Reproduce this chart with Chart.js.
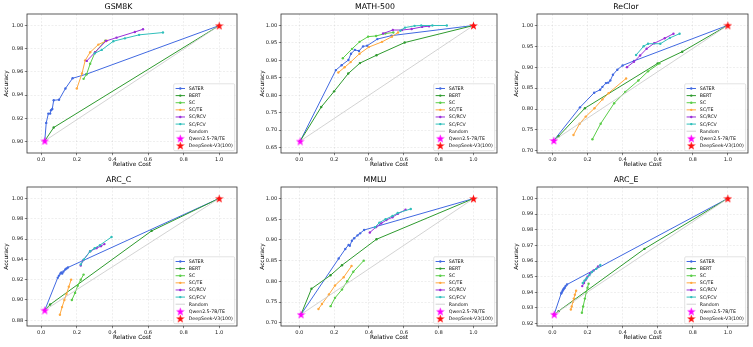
<!DOCTYPE html>
<html>
<head>
<meta charset="utf-8">
<script src="https://cdn.jsdelivr.net/npm/chart.js@4.4.1/dist/chart.umd.min.js"></script>
<style>
  html, body { margin: 0; padding: 0; background: #fff; }
  #wrap { position: relative; width: 753px; height: 347px; }
  #wrap canvas { position: absolute; }
</style>
</head>
<body>
<div id="wrap"></div>
<script>
// legend labels, in plotting order
const methods = ["SATER", "BERT", "SC", "SC/TE", "SC/RCV", "SC/FCV"];
const extraLabels = ["Random", "Qwen2.5-7B/TE", "DeepSeek-V3(100)"];
const colors = ["#4169e1", "#2e9a2e", "#5acd48", "#ffa83e", "#9a2fd8", "#30bfbb"];
const xTicks = [0, 0.2, 0.4, 0.6, 0.8, 1.0];
const bigModel = [1.0, 1.0];

// ---- GSM8K
const gsmQwen = [0.02, 0.9005];
const gsmSaterCost = [0.02, 0.028, 0.04, 0.05, 0.055, 0.062, 0.07, 0.1, 0.136, 0.176, 0.253, 1.0];
const gsmSaterAcc = [0.9005, 0.916, 0.924, 0.924, 0.927, 0.928, 0.9355, 0.936, 0.9457, 0.9545, 0.958, 1.0];
const gsmBertCost = [0.02, 0.07, 1.0];
const gsmBertAcc = [0.9005, 0.912, 1.0];
const gsmScCost = [0.238, 0.255, 0.275, 0.303, 0.36];
const gsmScAcc = [0.954, 0.958, 0.967, 0.977, 0.987];
const gsmTeCost = [0.2, 0.229, 0.247, 0.275, 0.321, 0.368];
const gsmTeAcc = [0.9457, 0.9586, 0.970, 0.977, 0.9836, 0.987];
const gsmRcvCost = [0.256, 0.303, 0.364, 0.423, 0.526, 0.572];
const gsmRcvAcc = [0.9695, 0.977, 0.9867, 0.9896, 0.9945, 0.9968];
const gsmFcvCost = [0.30, 0.34, 0.405, 0.47, 0.55, 0.684];
const gsmFcvAcc = [0.976, 0.979, 0.9865, 0.989, 0.992, 0.994];
const gsmYTicks = [0.90, 0.92, 0.94, 0.96, 0.98, 1.00];

// ---- MATH-500
const mathQwen = [0.005, 0.668];
const mathSaterCost = [0.005, 0.21, 0.243, 0.282, 0.297, 0.319, 0.343, 0.366, 0.39, 0.448, 0.53, 1.0];
const mathSaterAcc = [0.668, 0.872, 0.886, 0.901, 0.919, 0.930, 0.927, 0.940, 0.942, 0.961, 0.971, 1.0];
const mathBertCost = [0.005, 0.126, 0.2, 0.281, 0.348, 0.443, 0.605, 1.0];
const mathBertAcc = [0.668, 0.766, 0.811, 0.862, 0.892, 0.9146, 0.951, 1.0];
const mathScCost = [0.25, 0.303, 0.346, 0.395, 0.441, 0.494, 0.54];
const mathScAcc = [0.906, 0.933, 0.953, 0.968, 0.970, 0.977, 0.98];
const mathTeCost = [0.224, 0.26, 0.295, 0.346, 0.399, 0.475, 0.532, 0.567];
const mathTeAcc = [0.865, 0.88, 0.895, 0.919, 0.938, 0.953, 0.968, 0.98];
const mathRcvCost = [0.481, 0.537, 0.59, 0.645, 0.705, 0.745];
const mathRcvAcc = [0.977, 0.987, 0.987, 0.99, 0.996, 0.998];
const mathFcvCost = [0.58, 0.607, 0.662, 0.70, 0.764, 0.847];
const mathFcvAcc = [0.985, 0.994, 0.999, 1.0, 1.0, 1.0];
const mathYTicks = [0.65, 0.70, 0.75, 0.80, 0.85, 0.90, 0.95, 1.00];

// ---- ReClor
const reQwen = [0.008, 0.725];
const reSaterCost = [0.008, 0.157, 0.238, 0.272, 0.285, 0.305, 0.318, 0.33, 0.345, 0.37, 0.40, 0.465, 1.0];
const reSaterAcc = [0.725, 0.804, 0.839, 0.846, 0.853, 0.862, 0.863, 0.868, 0.882, 0.894, 0.904, 0.915, 1.0];
const reBertCost = [0.008, 0.035, 0.185, 0.6, 0.74, 1.0];
const reBertAcc = [0.725, 0.735, 0.802, 0.909, 0.937, 1.0];
const reScCost = [0.228, 0.275, 0.352, 0.415, 0.49, 0.545, 0.61];
const reScAcc = [0.728, 0.765, 0.814, 0.841, 0.868, 0.89, 0.909];
const reTeCost = [0.12, 0.155, 0.19, 0.24, 0.285, 0.32, 0.42];
const reTeAcc = [0.738, 0.765, 0.782, 0.802, 0.823, 0.838, 0.873];
const reRcvCost = [0.425, 0.465, 0.5, 0.537, 0.58, 0.64, 0.69];
const reRcvAcc = [0.90, 0.913, 0.928, 0.944, 0.957, 0.969, 0.98];
const reFcvCost = [0.477, 0.52, 0.545, 0.615, 0.67, 0.725];
const reFcvAcc = [0.929, 0.95, 0.956, 0.956, 0.97, 0.98];
const reYTicks = [0.70, 0.75, 0.80, 0.85, 0.90, 0.95, 1.00];

// ---- ARC_C
const arccQwen = [0.02, 0.89];
const arccSaterCost = [0.02, 0.093, 0.1, 0.108, 0.113, 0.118, 0.125, 0.135, 0.142, 0.15, 1.0];
const arccSaterAcc = [0.89, 0.922, 0.924, 0.926, 0.927, 0.926, 0.928, 0.930, 0.931, 0.932, 1.0];
const arccBertCost = [0.02, 0.05, 0.62, 1.0];
const arccBertAcc = [0.89, 0.8955, 0.968, 1.0];
const arccScCost = [0.172, 0.19, 0.205, 0.222, 0.238];
const arccScAcc = [0.90, 0.907, 0.914, 0.92, 0.925];
const arccTeCost = [0.105, 0.117, 0.13, 0.142, 0.155, 0.168];
const arccTeAcc = [0.8855, 0.893, 0.9, 0.906, 0.913, 0.92];
const arccRcvCost = [0.222, 0.235, 0.275, 0.31, 0.335, 0.355];
const arccRcvAcc = [0.934, 0.939, 0.948, 0.951, 0.953, 0.955];
const arccFcvCost = [0.222, 0.24, 0.275, 0.3, 0.33, 0.395];
const arccFcvAcc = [0.935, 0.94, 0.948, 0.951, 0.954, 0.962];
const arccYTicks = [0.88, 0.90, 0.92, 0.94, 0.96, 0.98, 1.00];

// ---- MMLU
const mmluQwen = [0.01, 0.72];
const mmluSaterCost = [0.01, 0.226, 0.264, 0.283, 0.29, 0.302, 0.315, 0.334, 0.349, 0.372, 1.0];
const mmluSaterAcc = [0.72, 0.855, 0.878, 0.888, 0.886, 0.898, 0.904, 0.911, 0.916, 0.924, 1.0];
const mmluBertCost = [0.01, 0.07, 0.179, 0.245, 0.443, 1.0];
const mmluBertAcc = [0.72, 0.782, 0.8146, 0.839, 0.9016, 1.0];
const mmluScCost = [0.18, 0.205, 0.245, 0.275, 0.31, 0.37];
const mmluScAcc = [0.74, 0.76, 0.78, 0.80, 0.823, 0.85];
const mmluTeCost = [0.11, 0.13, 0.17, 0.205, 0.255, 0.30];
const mmluTeAcc = [0.733, 0.745, 0.768, 0.79, 0.81, 0.837];
const mmluRcvCost = [0.405, 0.44, 0.47, 0.5, 0.535, 0.565, 0.61];
const mmluRcvAcc = [0.918, 0.931, 0.94, 0.948, 0.955, 0.963, 0.973];
const mmluFcvCost = [0.435, 0.46, 0.495, 0.535, 0.565, 0.64];
const mmluFcvAcc = [0.931, 0.942, 0.95, 0.958, 0.965, 0.975];
const mmluYTicks = [0.70, 0.75, 0.80, 0.85, 0.90, 0.95, 1.00];

// ---- ARC_E
const arceQwen = [0.01, 0.926];
const arceSaterCost = [0.01, 0.05, 0.053, 0.058, 0.062, 0.066, 0.07, 0.075, 0.083, 1.0];
const arceSaterAcc = [0.926, 0.9393, 0.94, 0.941, 0.9418, 0.9425, 0.943, 0.944, 0.945, 1.0];
const arceBertCost = [0.01, 0.035, 0.525, 1.0];
const arceBertAcc = [0.926, 0.928, 0.9678, 1.0];
const arceScCost = [0.168, 0.175, 0.185, 0.193, 0.2, 0.206];
const arceScAcc = [0.927, 0.931, 0.936, 0.94, 0.943, 0.9455];
const arceTeCost = [0.105, 0.11, 0.117, 0.122, 0.128, 0.135];
const arceTeAcc = [0.929, 0.931, 0.934, 0.936, 0.9385, 0.941];
const arceRcvCost = [0.17, 0.18, 0.19, 0.2, 0.215, 0.235, 0.26];
const arceRcvAcc = [0.944, 0.946, 0.948, 0.95, 0.952, 0.954, 0.9565];
const arceFcvCost = [0.173, 0.183, 0.195, 0.21, 0.225, 0.25, 0.273];
const arceFcvAcc = [0.946, 0.9475, 0.949, 0.951, 0.953, 0.955, 0.9575];
const arceYTicks = [0.92, 0.93, 0.94, 0.95, 0.96, 0.97, 0.98, 0.99, 1.00];

// panel layout (local px): plot left/right edges per column
const colX = [0, 251, 502];
const rowY = [0, 173];
const colLeft = [27, 30, 35];
const colRight = [237, 248, 248];
const yTitlePad = [3.5, 8, 11.5];
const colXRange = [[-0.08, 1.1], [-0.105, 1.135], [-0.088, 1.115]];

const panels = [
  { title: "GSM8K", col: 0, row: 0, qwen: gsmQwen, y: [0.89, 1.01], yTicks: gsmYTicks,
    series: [[gsmSaterCost, gsmSaterAcc], [gsmBertCost, gsmBertAcc], [gsmScCost, gsmScAcc],
             [gsmTeCost, gsmTeAcc], [gsmRcvCost, gsmRcvAcc], [gsmFcvCost, gsmFcvAcc]] },
  { title: "MATH-500", col: 1, row: 0, qwen: mathQwen, y: [0.634, 1.033], yTicks: mathYTicks,
    series: [[mathSaterCost, mathSaterAcc], [mathBertCost, mathBertAcc], [mathScCost, mathScAcc],
             [mathTeCost, mathTeAcc], [mathRcvCost, mathRcvAcc], [mathFcvCost, mathFcvAcc]] },
  { title: "ReClor", col: 2, row: 0, qwen: reQwen, y: [0.695, 1.027], yTicks: reYTicks,
    series: [[reSaterCost, reSaterAcc], [reBertCost, reBertAcc], [reScCost, reScAcc],
             [reTeCost, reTeAcc], [reRcvCost, reRcvAcc], [reFcvCost, reFcvAcc]] },
  { title: "ARC_C", col: 0, row: 1, qwen: arccQwen, y: [0.8744, 1.0112], yTicks: arccYTicks,
    series: [[arccSaterCost, arccSaterAcc], [arccBertCost, arccBertAcc], [arccScCost, arccScAcc],
             [arccTeCost, arccTeAcc], [arccRcvCost, arccRcvAcc], [arccFcvCost, arccFcvAcc]] },
  { title: "MMLU", col: 1, row: 1, qwen: mmluQwen, y: [0.692, 1.028], yTicks: mmluYTicks,
    series: [[mmluSaterCost, mmluSaterAcc], [mmluBertCost, mmluBertAcc], [mmluScCost, mmluScAcc],
             [mmluTeCost, mmluTeAcc], [mmluRcvCost, mmluRcvAcc], [mmluFcvCost, mmluFcvAcc]] },
  { title: "ARC_E", col: 2, row: 1, qwen: arceQwen, y: [0.9185, 1.0073], yTicks: arceYTicks,
    series: [[arceSaterCost, arceSaterAcc], [arceBertCost, arceBertAcc], [arceScCost, arceScAcc],
             [arceTeCost, arceTeAcc], [arceRcvCost, arceRcvAcc], [arceFcvCost, arceFcvAcc]] }
];

const FONT = "DejaVu Sans";

function makeStar(color, size) {
  const c = document.createElement("canvas");
  c.width = size; c.height = size;
  const g = c.getContext("2d");
  const R = size / 2, r = R * 0.4;
  g.beginPath();
  for (let i = 0; i < 10; i++) {
    const a = -Math.PI / 2 + i * Math.PI / 5;
    const rr = i % 2 ? r : R;
    g.lineTo(R + rr * Math.cos(a), R + 0.5 + rr * Math.sin(a));
  }
  g.closePath();
  g.fillStyle = color;
  g.fill();
  return c;
}
const qwenStar = makeStar("#ff00ff", 9);
const dsStar = makeStar("#ff1010", 9);

// frame + matplotlib-like legend in the lower right
const framePlugin = {
  id: "frameLegend",
  afterDatasetsDraw(chart) {
    const a = chart.chartArea, ctx = chart.ctx;
    ctx.save();
    ctx.strokeStyle = "rgba(0,0,0,0.8)";
    ctx.lineWidth = 0.8;
    ctx.strokeRect(a.left, a.top, a.right - a.left, a.bottom - a.top);
    ctx.restore();
  },
  afterDraw(chart) {
    const a = chart.chartArea, ctx = chart.ctx;
    const ds = chart.data.datasets;
    const fs = 4.7, pitch = 7.12, pad = 0.4 * fs, hl = 2 * fs, htp = 0.8 * fs;
    ctx.save();
    ctx.font = fs + 'px "' + FONT + '"';
    const maxW = Math.max(...ds.map(d => ctx.measureText(d.label).width));
    const w = 2 * pad + hl + htp + maxW;
    const h = 2 * fs + (ds.length - 1) * pitch + 0.5;
    const x = a.right - 0.5 * fs - w;
    const y = a.bottom - 0.5 * fs - h;
    ctx.beginPath();
    ctx.roundRect(x, y, w, h, 1.2);
    ctx.fillStyle = "rgba(255,255,255,0.85)";
    ctx.fill();
    ctx.strokeStyle = "#d0d0d0";
    ctx.lineWidth = 0.6;
    ctx.stroke();
    ds.forEach((d, i) => {
      const cy = y + fs + i * pitch;
      const x0 = x + pad, x1 = x0 + hl;
      if (d.pointStyle instanceof HTMLCanvasElement) {
        ctx.drawImage(d.pointStyle, (x0 + x1) / 2 - d.pointStyle.width / 2, cy - d.pointStyle.height / 2);
      } else {
        ctx.strokeStyle = d.borderColor;
        ctx.lineWidth = d.borderWidth;
        ctx.beginPath(); ctx.moveTo(x0, cy); ctx.lineTo(x1, cy); ctx.stroke();
        if (d.pointRadius > 0) {
          ctx.fillStyle = d.borderColor;
          ctx.beginPath(); ctx.arc((x0 + x1) / 2, cy, d.pointRadius, 0, Math.PI * 2); ctx.fill();
        }
      }
      ctx.fillStyle = "#111";
      ctx.textBaseline = "middle";
      ctx.fillText(d.label, x1 + htp, cy + 0.3);
    });
    ctx.restore();
  }
};

const wrap = document.getElementById("wrap");

panels.forEach(p => {
  const W = 251, H = 173;
  const canvas = document.createElement("canvas");
  canvas.width = W; canvas.height = H;
  canvas.style.left = colX[p.col] + "px";
  canvas.style.top = rowY[p.row] + "px";
  canvas.style.width = W + "px"; canvas.style.height = H + "px";
  wrap.appendChild(canvas);

  const datasets = p.series.map((s, i) => ({
    label: methods[i],
    data: s[0].map((c, k) => ({ x: c, y: s[1][k] })),
    showLine: true,
    borderColor: colors[i],
    backgroundColor: colors[i],
    borderWidth: 1,
    pointRadius: 1.2,
    pointBorderWidth: 0,
    order: -i
  }));
  datasets.push({
    label: extraLabels[0],
    data: [{ x: p.qwen[0], y: p.qwen[1] }, { x: bigModel[0], y: bigModel[1] }],
    showLine: true, borderColor: "#c8c8c8", backgroundColor: "#c8c8c8",
    borderWidth: 0.8, pointRadius: 0, order: -6
  });
  datasets.push({
    label: extraLabels[1],
    data: [{ x: p.qwen[0], y: p.qwen[1] }],
    pointStyle: qwenStar, showLine: false, order: -7
  });
  datasets.push({
    label: extraLabels[2],
    data: [{ x: bigModel[0], y: bigModel[1] }],
    pointStyle: dsStar, showLine: false, order: -8
  });

  const left = colLeft[p.col], right = colRight[p.col];
  const xr = colXRange[p.col];

  new Chart(canvas.getContext("2d"), {
    type: "scatter",
    data: { datasets },
    options: {
      responsive: false,
      animation: false,
      devicePixelRatio: 1,
      events: [],
      layout: { padding: { left: 0, top: 0, right: W - right, bottom: 0 } },
      plugins: {
        legend: { display: false },
        tooltip: { enabled: false },
        title: {
          display: true, text: p.title, color: "#000",
          font: { family: FONT, size: 7.8, weight: "normal", lineHeight: 1.2 },
          padding: { top: 2.7, bottom: 1.94 }
        }
      },
      scales: {
        x: {
          type: "linear", min: xr[0], max: xr[1],
          afterBuildTicks: s => { s.ticks = xTicks.map(v => ({ value: v })); },
          afterFit: s => { s.height = 20; },
          ticks: { font: { family: FONT, size: 5.2 }, color: "#1a1a1a", padding: 1.2,
                   maxRotation: 0, autoSkip: false, callback: v => v.toFixed(1) },
          grid: { color: "rgba(0,0,0,0.13)", lineWidth: 0.5, tickLength: 2.2,
                  tickColor: "#333", tickWidth: 0.6, tickBorderDash: [] },
          border: { display: false, dash: [2, 1.5] },
          title: { display: true, text: "Relative Cost", color: "#000",
                   font: { family: FONT, size: 5.8, lineHeight: 1.2 },
                   padding: { top: 0, bottom: 4.8 } }
        },
        y: {
          type: "linear", min: p.y[0], max: p.y[1],
          afterBuildTicks: s => { s.ticks = p.yTicks.map(v => ({ value: v })); },
          afterFit: s => { s.width = left; },
          ticks: { font: { family: FONT, size: 5.2 }, color: "#1a1a1a", padding: 1.5,
                   autoSkip: false, callback: v => v.toFixed(2) },
          grid: { color: "rgba(0,0,0,0.13)", lineWidth: 0.5, tickLength: 2.2,
                  tickColor: "#333", tickWidth: 0.6, tickBorderDash: [] },
          border: { display: false, dash: [2, 1.5] },
          title: { display: true, text: "Accuracy", color: "#000",
                   font: { family: FONT, size: 5.8, lineHeight: 1.2 },
                   padding: { top: yTitlePad[p.col], bottom: 0 } }
        }
      }
    },
    plugins: [framePlugin]
  });
});
</script>
</body>
</html>
